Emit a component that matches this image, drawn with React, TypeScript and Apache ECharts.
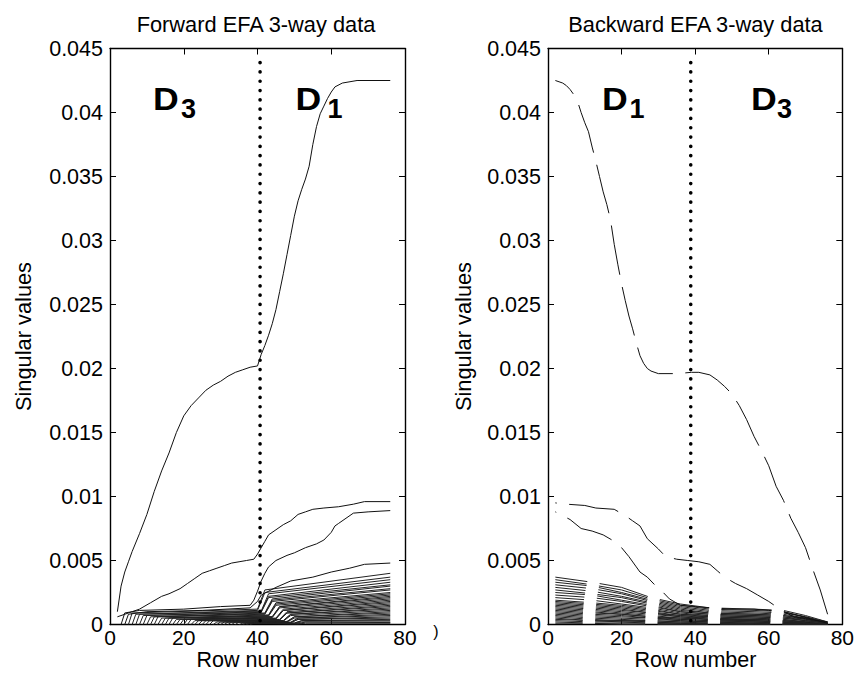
import React, { useEffect, useRef } from 'react';
import * as echarts from 'echarts';

// ---------- texts ----------
const panelTitles = ['Forward EFA 3-way data', 'Backward EFA 3-way data'];
const xAxisTitle = 'Row number';
const yAxisTitle = 'Singular values';
const xTickStep = 20;
const yTickStep = 0.005;
const xMax = 80;
const yMax = 0.045;

// dotted dividers (row number) and their top value
const dividerRows = [40.7, 38.8];
const dividerTop = 0.0439;

// ---------- forward EFA (left) ----------
const fwdS1: [number, number][] = [[2,0.001],[3,0.003],[4,0.0041],[5,0.0049],[6,0.0057],[8,0.0071],[10,0.0086],[12,0.0104],[14,0.012],[16,0.0134],[18,0.015],[20,0.0163],[22,0.0171],[24,0.0177],[26,0.0183],[28,0.0187],[30,0.019],[32,0.0194],[34,0.0197],[36,0.0199],[38,0.0201],[40,0.0202],[41,0.0211],[42,0.0218],[43,0.0226],[44,0.0235],[45,0.0246],[46,0.026],[47,0.0274],[48,0.0289],[49,0.0304],[50,0.0319],[51,0.0331],[52,0.034],[53,0.0348],[54,0.0358],[55,0.0375],[56,0.0389],[57,0.0399],[58,0.0405],[59,0.0411],[60,0.0416],[61,0.042],[63,0.0423],[67,0.0425],[76,0.0425]];
const fwdS2: [number, number][] = [[2,0.0006],[4,0.0008],[6,0.001],[8,0.0012],[11,0.0017],[14,0.0022],[16,0.0024],[19,0.0028],[21,0.0032],[23,0.0036],[25,0.004],[27,0.0042],[29,0.0044],[31,0.0046],[33,0.0048],[35,0.0049],[37,0.005],[39,0.0051],[40,0.0055],[41,0.006],[42,0.0065],[43,0.007],[45,0.0074],[47,0.0078],[49,0.0081],[51,0.0086],[53,0.0088],[55,0.009],[58,0.0091],[62,0.0092],[66,0.0094],[69,0.0096],[76,0.0096]];
const fwdS3: [number, number][] = [[3,0],[4,0.0009],[8,0.0011],[20,0.0012],[30,0.0014],[38,0.0015],[39,0.0019],[40,0.0026],[41,0.0034],[42,0.004],[43,0.0045],[45,0.005],[48,0.0054],[50,0.0056],[53,0.006],[56,0.0063],[58,0.0066],[60,0.0072],[61,0.0077],[62,0.0079],[64,0.0083],[66,0.0087],[70,0.0088],[76,0.0089]];
const fwdS4: [number, number][] = [[4,0],[5,0.0008],[10,0.001],[25,0.0011],[38,0.0013],[40,0.0018],[41,0.0023],[45,0.0029],[49,0.0034],[55,0.0037],[60,0.0041],[65,0.0044],[69,0.0047],[76,0.0048]];

// minor singular values: row where each appears, level on entry, level before the jump,
// row of the jump, level two rows after, level at the last row
const fwdBandStart = [5,6,7,8,9,10,11,12,13,14,15,16,17,18,19,20,21,22,23,24,25,26,27,28,29,30,31,32,33,34,35,36,37,38];
const fwdBandEntry = [0.0009,0.0008,0.0008,0.0007,0.0007,0.0006,0.0006,0.0006,0.0005,0.0005,0.0005,0.0005,0.0004,0.0004,0.0004,0.0004,0.0004,0.0003,0.0003,0.0003,0.0003,0.0003,0.0003,0.0002,0.0002,0.0002,0.0002,0.0002,0.0002,0.0002,0.0001,0.0001,0.0001,0.0001];
const fwdBandPre = [0.0012,0.0011,0.00105,0.001,0.00095,0.0009,0.00085,0.0008,0.00075,0.0007,0.00066,0.00062,0.00058,0.00054,0.0005,0.00046,0.00043,0.0004,0.00037,0.00034,0.00031,0.00028,0.00026,0.00024,0.00022,0.0002,0.00018,0.00016,0.00014,0.00012,0.0001,0.00008,0.00006,0.00004];
const fwdBandJump = [40,40,41,41,41,42,42,42,43,43,43,44,44,44,45,45,45,46,46,46,47,47,47,48,48,48,49,49,49,50,50,50,51,51];
const fwdBandPost = [0.0027,0.0025,0.0024,0.0022,0.0021,0.002,0.0019,0.0018,0.0017,0.0016,0.0015,0.0014,0.0014,0.0013,0.0012,0.0011,0.0011,0.001,0.0009,0.0009,0.0008,0.0008,0.0007,0.0006,0.0006,0.0005,0.0005,0.0004,0.0004,0.0003,0.0003,0.0002,0.0002,0.0001];
const fwdBandEnd = [0.004,0.0037,0.0035,0.0033,0.0031,0.003,0.0028,0.0027,0.0025,0.0024,0.0023,0.0022,0.0021,0.002,0.0019,0.0018,0.0017,0.0016,0.0015,0.0014,0.0013,0.0012,0.0011,0.001,0.0009,0.0008,0.0007,0.0006,0.0005,0.0004,0.0003,0.0002,0.00015,0.0001];
const fwdLastRow = 76;

// ---------- backward EFA (right) ----------
const bwdS1: [number, number][] = [[2,0.0425],[3,0.0424],[4,0.0423],[5,0.0421],[6,0.0418],[7,0.0414],[8,0.0409],[9,0.04],[10,0.0392],[11,0.0385],[12,0.0373],[13,0.0362],[14,0.035],[15,0.0338],[16,0.0328],[17,0.0316],[18,0.0297],[19,0.0281],[20,0.0266],[21,0.0253],[22,0.0241],[23,0.0231],[24,0.022],[25,0.021],[26,0.0204],[27,0.02],[28,0.0198],[30,0.0196],[35,0.0196],[39,0.0197],[41,0.0197],[44,0.0195],[46,0.0191],[48,0.0186],[50,0.018],[52,0.0171],[54,0.016],[56,0.0147],[58,0.0136],[60,0.0124],[62,0.0108],[64,0.0097],[66,0.0083],[68,0.0072],[70,0.006],[72,0.0043],[74,0.0027],[76,0.0008]];
const bwdS2: [number, number][] = [[2,0.0095],[5,0.0094],[10,0.0093],[13,0.0091],[18,0.009],[21,0.0085],[23,0.0081],[25,0.0077],[27,0.0067],[30,0.0059],[32,0.0053],[35,0.0051],[38,0.005],[41,0.0049],[44,0.0047],[46,0.0042],[48,0.0037],[51,0.0032],[54,0.0028],[57,0.0023],[60,0.0018],[62,0.0014],[64,0.001],[67,0.0006],[71,0.0004],[76,0.0002]];
const bwdS3: [number, number][] = [[2,0.0088],[4,0.0085],[6,0.0082],[9,0.0075],[12,0.0073],[15,0.007],[18,0.0065],[20,0.006],[22,0.0053],[24,0.0045],[25,0.0041],[27,0.0037],[29,0.0031],[31,0.0026],[33,0.002],[36,0.0015],[40,0.0014],[44,0.0013],[50,0.0012],[56,0.0012],[60,0.0011],[64,0.001],[68,0.0007],[72,0.0004],[76,0.0001]];

const bwdBandRows = [2, 12, 20, 28, 36, 44, 56, 64, 70, 76];
const bwdBand: number[][] = [
  [0.0037,0.0033,0.0029,0.0021,0.0016,0.0013,0.0012,0.0011,0.0007,0.0002],
  [0.0035,0.0031,0.0027,0.002,0.0015,0.0012,0.0011,0.001,0.0006,0.0002],
  [0.0033,0.003,0.0025,0.0019,0.0014,0.0011,0.001,0.0009,0.0006,0.0001],
  [0.0031,0.0028,0.0024,0.0018,0.0013,0.001,0.0009,0.0008,0.0005,0.0001],
  [0.0029,0.0026,0.0022,0.0017,0.0012,0.0009,0.0008,0.0007,0.0005,0.0001],
  [0.0027,0.0024,0.0021,0.0016,0.0011,0.0009,0.0008,0.0007,0.0004,0.0001],
  [0.0025,0.0023,0.0019,0.0015,0.001,0.0008,0.0007,0.0006,0.0004,0.0001],
  [0.0023,0.0021,0.0018,0.0014,0.001,0.0008,0.0007,0.0006,0.0003,0.0001],
  [0.0021,0.0019,0.0016,0.0013,0.0009,0.0007,0.0006,0.0005,0.0003,0.0001],
  [0.0019,0.0017,0.0015,0.0012,0.0008,0.0007,0.0006,0.0005,0.0003,0.0001],
  [0.0018,0.0016,0.0014,0.0011,0.0008,0.0006,0.0005,0.0004,0.0002,0],
  [0.0017,0.0015,0.0013,0.001,0.0007,0.0006,0.0005,0.0004,0.0002,0],
  [0.0016,0.0014,0.0012,0.0009,0.0007,0.0005,0.0004,0.0003,0.0002,0],
  [0.0015,0.0013,0.0011,0.0009,0.0006,0.0005,0.0004,0.0003,0.0002,0],
  [0.0014,0.0012,0.001,0.0008,0.0006,0.0004,0.0004,0.0003,0.0001,0],
  [0.0013,0.0011,0.0009,0.0007,0.0005,0.0004,0.0003,0.0002,0.0001,0],
  [0.0012,0.001,0.0008,0.0006,0.0005,0.0004,0.0003,0.0002,0.0001,0],
  [0.0011,0.0009,0.0008,0.0006,0.0004,0.0003,0.0003,0.0002,0.0001,0],
  [0.001,0.0008,0.0007,0.0005,0.0004,0.0003,0.0002,0.0002,0.0001,0],
  [0.0009,0.0007,0.0006,0.0005,0.0003,0.0002,0.0002,0.0001,0.0001,0],
  [0.0008,0.0006,0.0005,0.0004,0.0003,0.0002,0.0002,0.0001,0,0],
  [0.0007,0.0005,0.0004,0.0003,0.0002,0.0002,0.0001,0.0001,0,0],
  [0.0006,0.0004,0.0003,0.0003,0.0002,0.0001,0.0001,0.0001,0,0],
  [0.0005,0.0003,0.0003,0.0002,0.0001,0.0001,0.0001,0,0,0],
  [0.0004,0.0003,0.0002,0.0002,0.0001,0.0001,0,0,0,0],
  [0.0003,0.0002,0.0002,0.0001,0.0001,0,0,0,0,0],
  [0.0002,0.0001,0.0001,0.0001,0,0,0,0,0,0],
  [0.0001,0.0001,0,0,0,0,0,0,0,0],
];

const FONT = "'Liberation Sans', Arial, sans-serif";

function App() {
  const ref = useRef<HTMLDivElement>(null);
  useEffect(() => {
    if (!ref.current) return;
    const chart = echarts.init(ref.current, undefined, { renderer: 'svg' });

    const grids = [
      { left: 110, top: 48.5, width: 295, height: 576 },
      { left: 548, top: 48.5, width: 295, height: 576 },
    ];

    const yFmt = (v: number) => (v === 0 ? '0' : String(parseFloat(v.toFixed(3))));
    const xAxes: any[] = [];
    const yAxes: any[] = [];
    grids.forEach((_, gi) => {
      ['bottom', 'top'].forEach((pos) => {
        xAxes.push({
          type: 'value', gridIndex: gi, position: pos, min: 0, max: xMax, interval: xTickStep,
          axisLine: { show: true, onZero: false, lineStyle: { color: '#000', width: 1.4 } },
          axisTick: { show: true, inside: true, length: 6, lineStyle: { color: '#000', width: 1 } },
          axisLabel: { show: pos === 'bottom', color: '#000', fontSize: 21, fontFamily: FONT, margin: 2 },
          splitLine: { show: false },
        });
      });
      ['left', 'right'].forEach((pos) => {
        yAxes.push({
          type: 'value', gridIndex: gi, position: pos, min: 0, max: yMax, interval: yTickStep,
          axisLine: { show: true, onZero: false, lineStyle: { color: '#000', width: 1.4 } },
          axisTick: { show: true, inside: true, length: 6, lineStyle: { color: '#000', width: 1 } },
          axisLabel: { show: pos === 'left', color: '#000', fontSize: 21.5, fontFamily: FONT, margin: 7, formatter: yFmt },
          splitLine: { show: false },
        });
      });
    });

    const series: any[] = [];
    const solid = (data: [number, number][], color = '#111') => ({
      type: 'line', xAxisIndex: 0, yAxisIndex: 0, data, symbol: 'none', silent: true,
      lineStyle: { color, width: 1 }, emphasis: { disabled: true },
    });
    // dashed series are traced from the last row back to the first
    const dashed = (data: [number, number][], color = '#111') => ({
      type: 'line', xAxisIndex: 2, yAxisIndex: 2, data: data.slice().reverse(), symbol: 'none', silent: true,
      lineStyle: { color, width: 1, type: [50, 12.5], dashOffset: 5 }, emphasis: { disabled: true },
    });

    // left band
    fwdBandStart.forEach((s, i) => {
      const d: [number, number][] = [
        [s, 0],
        [s + 1, fwdBandEntry[i]],
        [fwdBandJump[i], fwdBandPre[i]],
        [fwdBandJump[i] + 2, fwdBandPost[i]],
        [fwdLastRow, fwdBandEnd[i]],
      ];
      series.push(solid(d, '#222'));
    });
    [fwdS4, fwdS3, fwdS2, fwdS1].forEach((d) => series.push(solid(d)));

    // right band
    bwdBand.forEach((row) => {
      const d: [number, number][] = bwdBandRows.map((r, j) => [r, row[j]]);
      series.push(dashed(d, '#222'));
    });
    [bwdS3, bwdS2, bwdS1].forEach((d) => series.push(dashed(d)));

    // dotted dividers
    dividerRows.forEach((r, gi) => {
      series.push({
        type: 'line', xAxisIndex: gi * 2, yAxisIndex: gi * 2, symbol: 'none', silent: true,
        data: [[r, dividerTop], [r, 0]],
        lineStyle: { color: '#000', width: 3.6, type: [0.1, 9.2], cap: 'round' },
        emphasis: { disabled: true }, z: 5,
      });
    });

    const txt = (text: string, x: number, y: number, size: number, extra: any = {}) => ({
      type: 'text', x, y, silent: true, rotation: extra.rotation || 0, scaleX: extra.scaleX || 1,
      style: {
        text, fill: '#000', fontSize: size, fontFamily: FONT,
        fontWeight: extra.bold ? 'bold' : 'normal',
        align: extra.align || 'center', verticalAlign: 'middle',
      },
    });

    const bigD = { bold: true, align: 'left', scaleX: 1.15 };
    const sub = { bold: true, align: 'left' };
    const graphic: any[] = [
      txt(panelTitles[0], 256, 24, 21.8),
      txt(panelTitles[1], 695.5, 24, 21.8),
      txt(xAxisTitle, 257.5, 659.5, 21.5),
      txt(xAxisTitle, 695.5, 659.5, 21.5),
      txt(yAxisTitle, 23.5, 336.5, 21.8, { rotation: Math.PI / 2 }),
      txt(yAxisTitle, 463, 336.5, 21.8, { rotation: Math.PI / 2 }),
      txt(')', 436, 631, 16),
      // region labels
      txt('D', 153, 99.5, 31, bigD),
      txt('3', 181, 108.5, 27, sub),
      txt('D', 295.5, 99.5, 31, bigD),
      txt('1', 327.5, 108.5, 27, sub),
      txt('D', 602, 99.5, 31, bigD),
      txt('1', 629.5, 108.5, 27, sub),
      txt('D', 751, 99.5, 31, bigD),
      txt('3', 777, 108.5, 27, sub),
    ];

    chart.setOption({
      animation: false,
      backgroundColor: '#fff',
      grid: grids,
      xAxis: xAxes,
      yAxis: yAxes,
      series,
      graphic,
    });
    return () => chart.dispose();
  }, []);
  return <div ref={ref} style={{ position: 'fixed', left: 0, top: 0, width: 857, height: 680, background: '#fff' }} />;
}

export default App;
